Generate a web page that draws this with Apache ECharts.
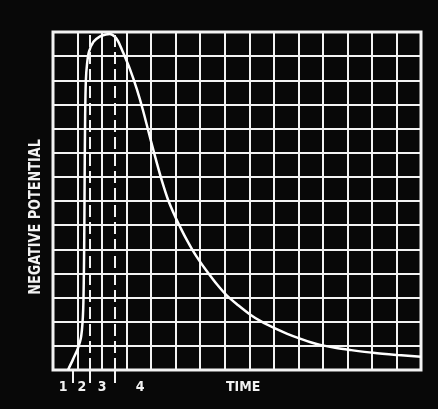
<!DOCTYPE html>
<html>
<head>
<meta charset="utf-8">
<script src="https://cdn.jsdelivr.net/npm/echarts@6/dist/echarts.min.js"></script>
<style>
  html, body { margin: 0; padding: 0; background: #080808; }
  #chart { width: 438px; height: 409px; }
</style>
</head>
<body>
<div id="chart"></div>
<script>
// Potential trace: time in grid divisions, potential in grid divisions
const timeVals = [0.61, 0.82, 1.02, 1.15, 1.23, 1.27, 1.29, 1.31, 1.34, 1.39, 1.47, 1.65, 1.92, 2.15, 2.32,
  2.53, 2.65, 2.85, 3.14, 3.42, 3.67, 3.95, 4.24, 4.45, 4.69, 4.95, 5.18, 5.42, 5.67, 5.97, 6.28,
  6.68, 7.09, 7.55, 8.03, 8.5, 9.05, 9.55, 10.07, 10.5, 10.9, 11.5, 12.11, 13.05, 14.06, 15.0];
const potentialVals = [0, 0.45, 0.91, 1.4, 2.5, 5.0, 8.0, 10.5, 12.0, 12.7, 13.2, 13.6, 13.82, 13.9, 13.92,
  13.8, 13.62, 13.17, 12.45, 11.62, 10.75, 9.65, 8.55, 7.8, 7.05, 6.42, 5.93, 5.45, 5.0, 4.52, 4.08,
  3.55, 3.08, 2.68, 2.3, 2.0, 1.72, 1.5, 1.3, 1.15, 1.04, 0.92, 0.83, 0.71, 0.62, 0.55];

// Graticule extent (divisions)
const timeMax = 15;
const potentialMax = 14;

// Phase numbering under the time axis
const phaseLabels = ['1', '2', '3', '4'];
const phaseLabelAt = [0.41, 1.18, 2.0, 3.55];
const phaseBounds = [0.82, 1.5, 2.5];
const dashedBounds = [1.5, 2.5];
const timeTitle = 'TIME';
const timeTitleAt = 7.75;
const potentialTitle = 'NEGATIVE POTENTIAL';

const ink = '#f2f2f2';
const letterFont = 'DejaVu Sans Condensed';

const labelValues = phaseLabelAt.concat([timeTitleAt]);
const labelTexts = phaseLabels.concat([timeTitle]);

const chart = echarts.init(document.getElementById('chart'));
chart.setOption({
  backgroundColor: '#080808',
  animation: false,
  grid: {
    left: 53, right: 17, top: 32, bottom: 39,
    show: true, borderColor: ink, borderWidth: 3, backgroundColor: 'transparent'
  },
  xAxis: [
    {
      type: 'value', min: 0, max: timeMax, interval: 1, position: 'bottom',
      axisLine: { show: false }, axisTick: { show: false }, axisLabel: { show: false },
      splitLine: { show: true, lineStyle: { color: ink, width: 2 } }
    },
    {
      type: 'value', min: 0, max: timeMax, position: 'bottom',
      axisLine: { show: false },
      splitLine: { show: false },
      axisTick: {
        show: true, inside: false, length: 13, customValues: phaseBounds,
        lineStyle: { color: ink, width: 2 }
      },
      axisLabel: {
        show: true, customValues: labelValues, margin: 10,
        color: ink, fontFamily: letterFont, fontWeight: 'bold', fontSize: 14,
        formatter: function (v) {
          let best = 0;
          for (let i = 0; i < labelValues.length; i++) {
            if (Math.abs(labelValues[i] - v) < Math.abs(labelValues[best] - v)) best = i;
          }
          return labelTexts[best];
        }
      }
    }
  ],
  yAxis: {
    type: 'value', min: 0, max: potentialMax, interval: 1,
    axisLine: { show: false }, axisTick: { show: false }, axisLabel: { show: false },
    splitLine: { show: true, lineStyle: { color: ink, width: 2 } }
  },
  graphic: [{
    type: 'text',
    x: 36, y: 217,
    rotation: Math.PI / 2,
    scaleX: 0.95,
    style: {
      text: potentialTitle,
      fill: ink,
      font: 'bold 15px "' + letterFont + '"',
      align: 'center',
      verticalAlign: 'middle'
    }
  }],
  series: [{
    type: 'line',
    xAxisIndex: 0,
    data: timeVals.map((t, i) => [t, potentialVals[i]]),
    smooth: 0.3,
    showSymbol: false,
    lineStyle: { color: '#ffffff', width: 2.5 },
    markLine: {
      silent: true,
      symbol: 'none',
      label: { show: false },
      lineStyle: { color: ink, width: 2, type: [12, 5] },
      data: dashedBounds.map(v => ({ xAxis: v }))
    }
  }]
});
</script>
</body>
</html>
